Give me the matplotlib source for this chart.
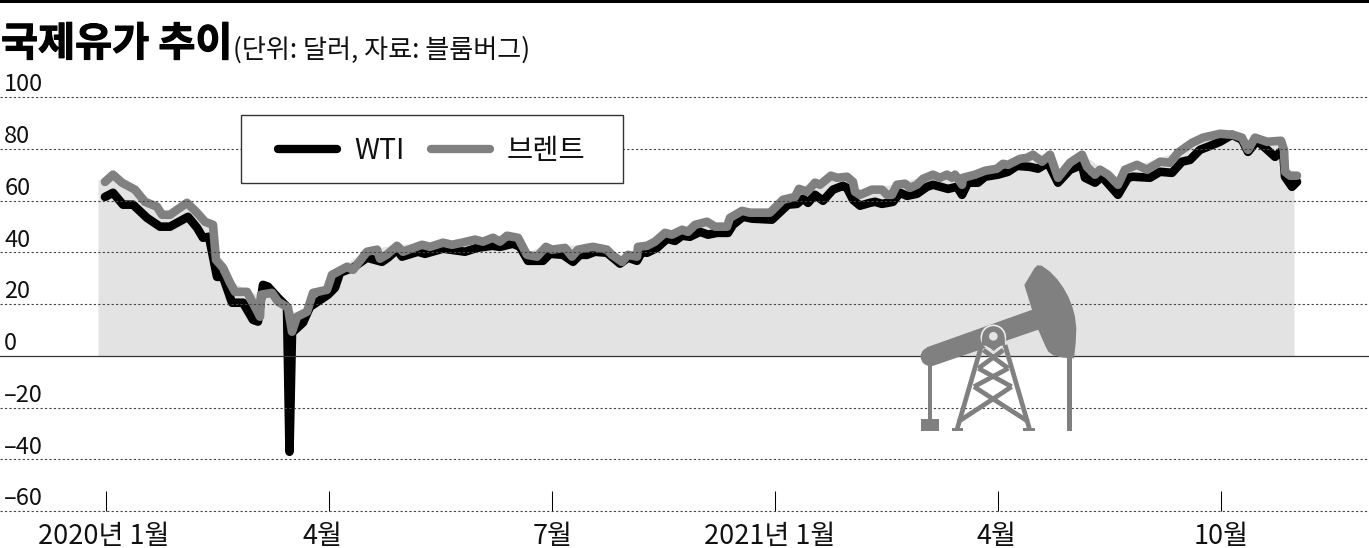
import matplotlib
matplotlib.use('Agg')
import matplotlib.pyplot as plt
import matplotlib.patheffects as pe
from matplotlib.lines import Line2D
from matplotlib.patches import Circle, Polygon, Rectangle
from matplotlib.transforms import Affine2D, ScaledTranslation

plt.rcParams['font.family'] = ['Noto Sans CJK KR', 'DejaVu Sans']

# x is a running position along the time axis, one tick every 111.5
tick_pos = [0, 111.5, 223, 334.5, 446, 557.5]
tick_labels = ['2020년 1월', '4월', '7월', '2021년 1월', '4월', '10월']
y_ticks = [100, 80, 60, 40, 20, 0, -20, -40, -60]
y_labels = ['100', '80', '60', '40', '20', '0', '–20', '–40', '–60']

wti_x = [-0.5, 3.5, 8.5, 13.5, 20.5, 27, 32, 41, 45.5, 48.5, 51.5, 55.5, 58.5, 63, 68.5, 73.5, 76, 78.5, 81, 86,
         90.5, 91.75, 93, 98.5, 102, 111, 114.5, 117, 123.5, 130.5, 138, 141, 145.5, 148, 156, 159.5, 168.5,
         179.5, 185.5, 193, 197, 203.5, 207, 211, 218.5, 222, 228.5, 233.5, 237, 240.5, 244.5, 250.5, 257, 261,
         265.5, 268, 270.5, 275.5, 280.5, 284.5, 288, 292, 297, 301, 305.5, 311, 313.5, 318.5, 323, 333, 341,
         345.5, 348.5, 351, 354.5, 358.5, 363.5, 368.5, 370.5, 373.5, 377, 382, 384.5, 388, 393.5, 397, 400.5,
         405.5, 410.5, 413.5, 421, 425.5, 428, 431, 436, 439.5, 446, 451, 455.5, 462, 466, 471, 476, 482, 488,
         489.5, 494.5, 498, 506, 511, 513.5, 522, 527, 533, 538, 542, 547, 551, 557, 563, 568, 571, 575.5,
         579.5, 584.5, 588.5, 589.5, 593, 595.5]
wti = [61.4, 63.0, 58.4, 58.4, 53.3, 49.9, 49.9, 53.7, 49.5, 45.6, 46.0, 30.5, 30.5, 20.5, 20.5, 13.9, 13.2, 27.4,
       26.7, 22.4, 18.9, -37.1, 8.9, 12.8, 18.9, 23.6, 26.3, 32.1, 34.0, 37.9, 36.3, 37.9, 41.0, 38.3, 40.2, 39.4,
       41.4, 40.2, 41.7, 42.5, 42.1, 43.3, 42.1, 36.7, 36.7, 39.4, 39.0, 36.3, 39.0, 39.0, 40.2, 39.8, 35.6, 37.9,
       36.7, 40.2, 39.8, 41.7, 45.2, 44.4, 46.4, 46.0, 47.9, 46.8, 47.5, 47.5, 50.6, 53.7, 53.0, 52.6, 58.4,
       58.7, 60.7, 59.1, 62.2, 59.9, 64.2, 65.7, 64.9, 60.3, 58.0, 59.1, 59.5, 58.7, 59.5, 63.0, 61.8,
       62.6, 65.3, 66.1, 64.5, 65.3, 62.2, 66.9, 66.9, 69.2, 70.0, 71.1, 73.4, 73.0, 72.3, 74.6, 66.9, 71.9, 73.8,
       68.8, 66.9, 69.2, 62.2, 68.8, 69.2, 68.8, 71.1, 70.7, 75.0, 75.7, 79.6, 80.8, 82.7, 85.4, 83.5, 78.8, 83.1,
       80.4, 76.9, 79.6, 69.2, 65.3, 67.2]

brent_x = [-0.5, 3.5, 8, 14.5, 19.5, 25.5, 28, 32, 40.5, 45.5, 49.5, 53.5, 55, 58.5, 62, 64.5, 70.5, 74.5, 77, 77.5,
           83, 86, 91, 93, 95.5, 100.5, 103.5, 110.5, 113, 120.5, 123.5, 130.5, 135.5, 137, 140.5, 145.5, 148.5,
           158, 162, 168.5, 173, 178, 184.5, 188.5, 193.5, 197, 200.5, 206, 210.5, 215.5, 220, 223, 229.5, 233,
           236, 240.5, 243.5, 250.5, 253, 258, 261, 265.5, 266, 270.5, 274.5, 279.5, 283, 288, 291, 294.5, 300.5,
           304.5, 310.5, 312, 318, 322, 332, 338.5, 344.5, 346.5, 350.5, 354.5, 357, 362.5, 365.5, 370.5, 373.5,
           374.5, 377, 383, 388, 390.5, 393, 395.5, 399.5, 402, 405.5, 408.5, 413.5, 417, 420.5, 423, 424.5, 428,
           428.5, 434.5, 439.5, 445.5, 448.5, 451, 457, 460.5, 463.5, 468, 472, 476, 482, 488, 490.5, 494.5, 497,
           501, 506, 509.5, 515.5, 520.5, 527, 532, 536, 543, 548.5, 557, 563.5, 568, 571, 574.5, 580.5, 587.5,
           589, 589.5, 592, 595.5]
brent = [67.2, 70.0, 66.9, 64.2, 59.5, 57.6, 54.5, 54.5, 59.1, 55.3, 51.8, 50.6, 37.1, 34.0, 28.2, 24.7, 24.7, 18.9,
         15.1, 23.6, 24.3, 20.9, 18.6, 9.3, 15.1, 17.0, 24.3, 25.5, 31.3, 34.4, 33.2, 40.2, 41.0, 37.5, 39.1, 42.5,
         40.2, 42.9, 42.1, 43.7, 42.9, 43.7, 44.9, 44.1, 45.6, 44.1, 46.4, 45.6, 39.0, 38.3, 42.1, 41.0, 41.7, 38.3,
         41.0, 41.7, 42.1, 41.0, 39.0, 36.3, 39.0, 38.3, 42.1, 42.5, 44.1, 47.5, 46.8, 48.7, 47.9, 50.6, 51.8,
         49.9, 49.9, 53.3, 56.0, 55.3, 55.3, 60.3, 61.4, 64.5, 63.4, 66.9, 66.1, 69.6, 68.8, 69.2, 67.2,
         63.4, 62.2, 64.2, 64.2, 62.2, 62.2, 66.1, 66.5, 64.9, 66.1, 68.4, 70.0, 68.8, 70.0, 68.8, 70.0, 66.1,
         68.8, 70.0, 71.5, 72.3, 74.2, 73.8, 76.1, 76.5, 77.7, 75.0, 77.7, 68.8, 74.6, 77.7, 73.0, 70.0, 71.9,
         70.0, 66.1, 71.9, 73.8, 71.9, 75.0, 74.6, 78.5, 82.3, 84.3, 85.8, 85.4, 84.3, 79.6, 84.3, 82.7, 83.1,
         79.6, 71.1, 69.6, 69.6]

# grey area behind the lines, smoother than either series
area_x = [-4, 3.5, 8, 14.5, 25.5, 32, 40.5, 45.5, 53.5, 55, 62, 70.5, 77, 83, 91, 95.5, 100.5, 103.5, 110.5, 120.5,
          130.5, 145.5, 168.5, 200.5, 206, 210.5, 220, 243.5, 258, 266, 279.5, 294.5, 310.5, 318, 332, 346.5,
          362.5, 370.5, 374.5, 395.5, 413.5, 434.5, 463.5, 472, 476, 488, 506, 509.5, 536, 557, 568, 571, 574.5,
          587.5, 589.5, 594]
area = [68, 71, 68, 65, 58, 55, 60, 56, 51, 38, 29, 25.5, 23, 25, 19, 16, 18, 25, 27, 36,
        41, 43, 44, 47, 46, 40, 43, 42.5, 37.5, 42.5, 48, 51.5, 51, 57, 56, 65,
        70, 70, 64, 66.5, 70.5, 70.5, 78, 78, 70, 78, 68, 72, 79, 86, 85, 80, 85,
        84, 71, 69.5]

GRAY = '#808080'
AREA = '#e3e3e3'
INK = '#111111'
LW = 6.2

fig = plt.figure(figsize=(13.69, 5.48), dpi=100)
ax = fig.add_axes([0, (548 - 511) / 548, 1, 511 / 548])
ax.set_xlim(-53, 631.5)
ax.set_ylim(-60, 137.5)
for s in ax.spines.values():
    s.set_visible(False)

ax.fill_between(area_x, area, 0, color=AREA, lw=0, zorder=1)
ax.plot(wti_x, wti, color='black', lw=LW, solid_capstyle='round', solid_joinstyle='round', zorder=2)
ax.plot(brent_x, brent, color=GRAY, lw=LW, solid_capstyle='round', solid_joinstyle='round', zorder=3)

# grid sits on top of the lines in the original
for v in y_ticks:
    if v == 0:
        ax.axhline(v, color='#333333', lw=0.9, zorder=4)
    else:
        ax.axhline(v, color='#444444', lw=0.8, ls=(0, (2, 2)), zorder=4, clip_on=False)

ax.set_xticks(tick_pos, tick_labels)
ax.tick_params(axis='x', direction='in', length=14.4, width=0.75, color='black', pad=9, labelsize=19.5,
               labelcolor=INK)
label_nudge = [-2, -7, 1, -5, -2, 0]
for lab, dx in zip(ax.get_xticklabels(), label_nudge):
    lab.set_transform(lab.get_transform() + ScaledTranslation(dx / 100, 0, fig.dpi_scale_trans))

ax.set_yticks(y_ticks, y_labels)
ax.tick_params(axis='y', length=0, pad=-3, labelsize=17, labelcolor=INK)
shift = ScaledTranslation(0, 0.5 / 72, fig.dpi_scale_trans)
for lab in ax.get_yticklabels():
    lab.set_ha('left')
    lab.set_va('bottom')
    lab.set_transform(lab.get_transform() + shift)


def px(x, y):
    return x / 1369, 1 - y / 548


# top rule and titles
fig.add_artist(Rectangle(px(0, 3), 1, 3 / 548, transform=fig.transFigure, color='black', lw=0))
fig.text(*px(1, 56), '국제유가 추이', fontsize=29, fontweight='black', color='black', va='baseline',
         path_effects=[pe.withStroke(linewidth=0.8, foreground='black')])
fig.text(*px(233, 58), '(단위: 달러, 자료: 블룸버그)', fontsize=18.8, color=INK, va='baseline')

# legend box
x0, y0 = px(241, 182.5)
ax.add_patch(Rectangle((x0, y0), 382 / 1369, 67.5 / 548, transform=fig.transFigure, fc='white', ec='#333333',
                       lw=1, zorder=6))
handles = [Line2D([], [], color='black', lw=6, solid_capstyle='round'),
           Line2D([], [], color=GRAY, lw=6, solid_capstyle='round')]
leg = ax.legend(handles, ['WTI', '브렌트'], ncol=2, frameon=False, fontsize=20.5, loc='center',
                bbox_to_anchor=px(432, 151), bbox_transform=fig.transFigure, borderpad=0, borderaxespad=0,
                handlelength=2.05, handletextpad=0.6, columnspacing=0.95, labelcolor=INK)
leg.set_zorder(7)

# pump jack icon, drawn in crop coordinates of a 3x view anchored at pixel (900, 250)
icon = Affine2D().scale(1 / 3, -1 / 3).translate(900, 548 - 250)


def icon_poly(points, fc=GRAY):
    ax.add_patch(Polygon(points, closed=True, fc=fc, ec='none', transform=icon, zorder=5, clip_on=False))


icon_poly([(80, 292), (400, 178), (418, 238), (98, 348)])
ax.add_patch(Circle((90, 320), 28, fc=GRAY, ec='none', transform=icon, zorder=5))
icon_poly([(373, 105), (403, 55), (412, 46), (425, 47), (450, 65), (472, 88), (490, 113), (505, 140), (517, 170),
           (525, 200), (529, 235), (527, 280), (522, 325), (490, 323), (460, 316), (445, 305), (437, 290),
           (415, 240)])
icon_poly([(83, 340), (97, 340), (97, 510), (83, 510)])
icon_poly([(62, 507), (117, 507), (117, 543), (62, 543)])
icon_poly([(502, 320), (516, 320), (516, 543), (502, 543)])
icon_poly([(155, 533), (190, 533), (190, 543), (155, 543)])
icon_poly([(370, 533), (405, 533), (405, 543), (370, 543)])

tower = [((245, 285), (172, 535)), ((315, 285), (388, 535)),
         ((250, 300), (325, 355)), ((310, 300), (235, 355)),
         ((235, 355), (335, 410)), ((325, 355), (222, 410)),
         ((222, 410), (385, 515)), ((335, 410), (175, 515))]
for a, b in tower:
    ax.add_line(Line2D([a[0], b[0]], [a[1], b[1]], color=GRAY, lw=3.4, transform=icon, zorder=5,
                       solid_capstyle='butt'))
ax.add_patch(Circle((280, 262), 36, fc=GRAY, ec='#ececec', lw=1.2, transform=icon, zorder=5))
icon_poly([(246, 262), (314, 262), (315, 287), (245, 287)])
icon_poly([(262, 287), (300, 287), (281, 303)])
ax.add_patch(Circle((280, 259), 13, fc=AREA, ec='none', transform=icon, zorder=5))

fig.savefig('out.png', dpi=100)
